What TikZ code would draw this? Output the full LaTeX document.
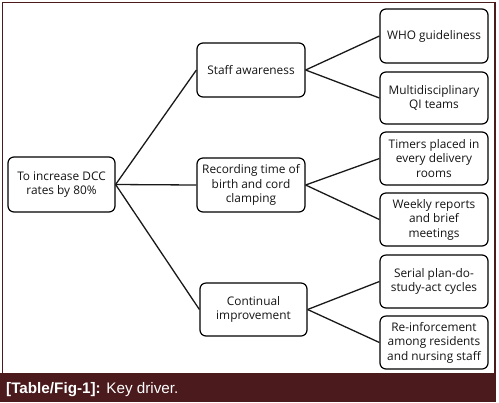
\documentclass[tikz,border=0pt]{standalone}
\usepackage{fontspec}
\setmainfont{Open Sans}
\newfontfamily\capfont{Liberation Sans}
\definecolor{barcol}{HTML}{4A1A1C}
\begin{document}
\begin{tikzpicture}[x=1bp,y=-1bp,
  box/.style={draw=black, line width=1.2bp, rounded corners=6bp, minimum width=108bp, minimum height=53bp, inner sep=1bp, align=center, text=black!92, font=\fontsize{11.9}{14.6}\selectfont},
  link/.style={draw=black!90, line width=1.3bp}]
\useasboundingbox (0,0) rectangle (499,402);
\fill[white] (0,0) rectangle (499,402);
% frame and caption bar
\draw[barcol, line width=1.6bp] (2.5,373) -- (2.5,2.5) -- (495,2.5) -- (495,373);
\fill[barcol] (0,372.5) rectangle (496,402);
\node[anchor=base west, inner sep=0, text=white, font=\capfont\fontsize{15.3}{17}\selectfont] (cap) at (6,393.3) {\textbf{[Table/Fig-1]:} Key driver.};
% nodes
\node[box, minimum width=107bp, minimum height=55bp] (root) at (61.5,184.5) {To increase DCC\\rates by 80\%};
\node[box, minimum height=54bp] (staff) at (251,70) {Staff awareness};
\node[box, minimum height=54bp] (rec) at (251,185) {Recording time of\\birth and cord\\clamping};
\node[box, minimum width=107bp] (cont) at (253.5,309.5) {Continual\\improvement};
\node[box, minimum height=54bp] (who) at (434,36) {WHO guideliness};
\node[box, minimum height=52bp] (multi) at (434,98) {Multidisciplinary\\QI teams};
\node[box] (timers) at (434,158.5) {Timers placed in\\every delivery\\rooms};
\node[box] (weekly) at (434,219.5) {Weekly reports\\and brief\\meetings};
\node[box] (serial) at (434,281.5) {Serial plan-do-\\study-act cycles};
\node[box] (reinf) at (434,342.5) {Re-inforcement\\among residents\\and nursing staff};
% connectors
\draw[link] (root.east) -- (staff.west);
\draw[link] (root.east) -- (rec.west);
\draw[link] (root.east) -- (cont.west);
\draw[link] (staff.east) -- (who.west);
\draw[link] (staff.east) -- (multi.west);
\draw[link] (rec.east) -- (timers.west);
\draw[link] (rec.east) -- (weekly.west);
\draw[link] (cont.east) -- (serial.west);
\draw[link] (cont.east) -- (reinf.west);
\end{tikzpicture}
\end{document}
